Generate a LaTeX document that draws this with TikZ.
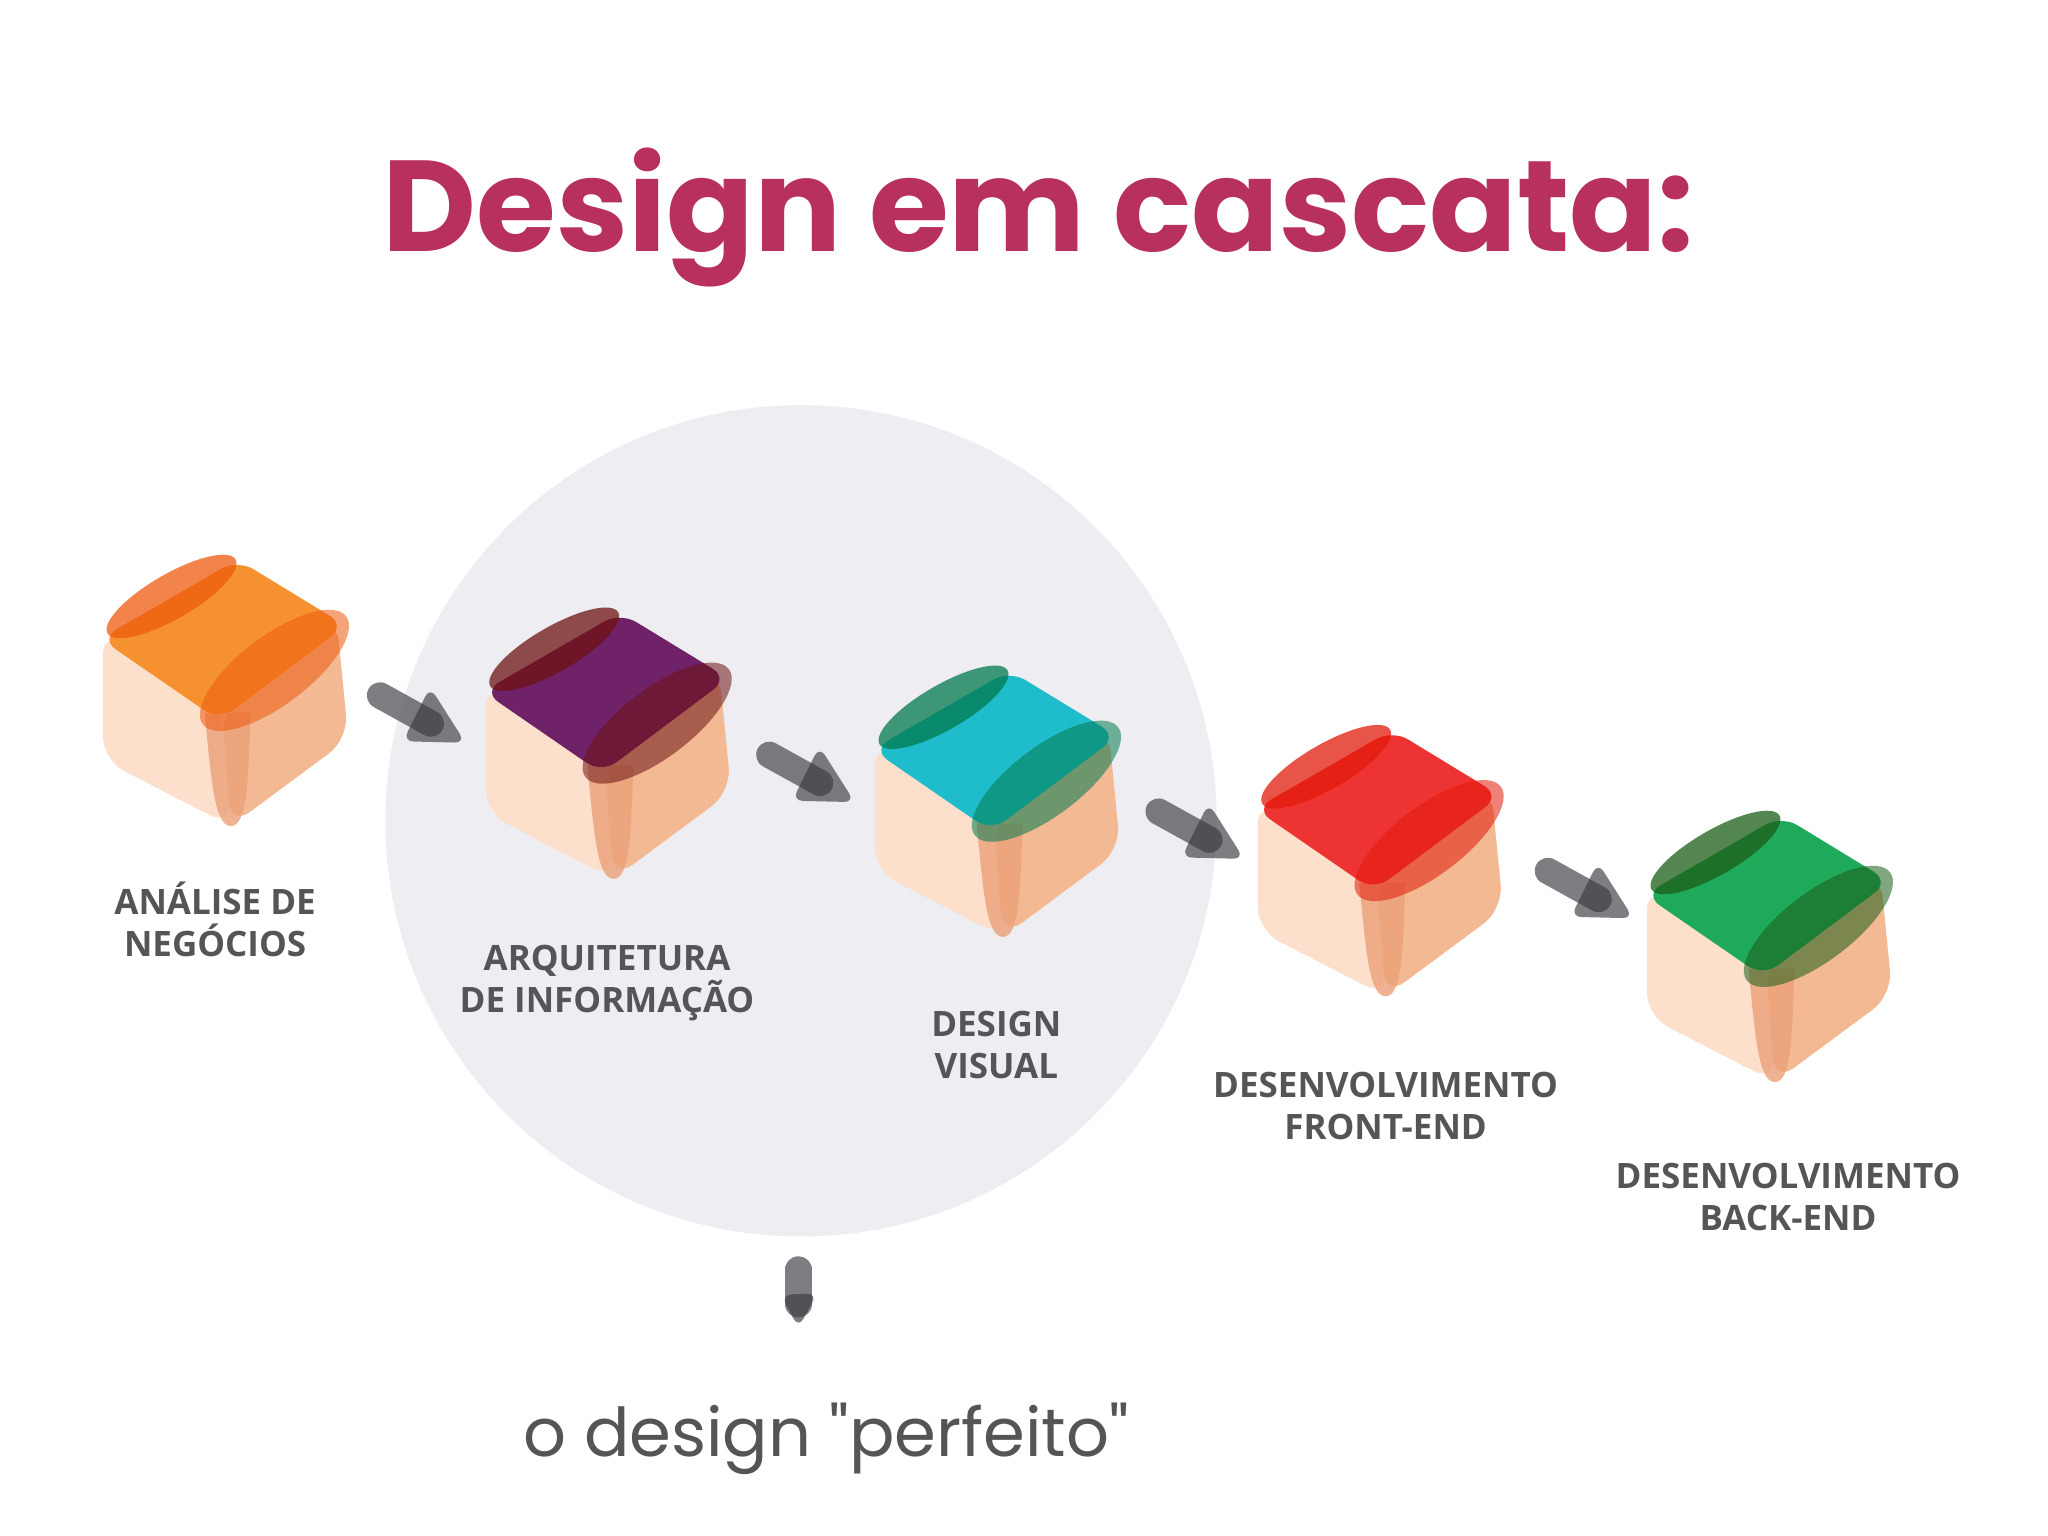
\documentclass[tikz,border=0pt]{standalone}
\usepackage{fontspec}
\setmainfont{Open Sans}
\newfontfamily\titlefont{Poppins}
\begin{document}
\begin{tikzpicture}[x=1pt,y=-1pt,
  lbl/.style={font=\fontsize{26.5}{32}\selectfont\bfseries, text=labgray, align=center},
  blob/.style={fill=arrgray, fill opacity=0.65, draw=none}]
\definecolor{labgray}{HTML}{555558}
\definecolor{arrgray}{HTML}{3A3A40}
\definecolor{lface}{HTML}{FCE0CC}
\definecolor{rface}{HTML}{F2B993}
\definecolor{mface}{HTML}{EBA078}
\definecolor{circ}{HTML}{EEEEF2}
\definecolor{titlec}{HTML}{B83060}
\definecolor{ctopA}{HTML}{F5922F}\definecolor{cdarkA}{HTML}{EE5A0E}
\definecolor{ctopB}{HTML}{702268}\definecolor{cdarkB}{HTML}{6E1212}
\definecolor{ctopC}{HTML}{1FBDCB}\definecolor{cdarkC}{HTML}{027A4E}
\definecolor{ctopD}{HTML}{EE3333}\definecolor{cdarkD}{HTML}{E21B0B}
\definecolor{ctopE}{HTML}{1FA95A}\definecolor{cdarkE}{HTML}{1C5E18}
\useasboundingbox (0,0) rectangle (1552,1164);
\fill[white] (0,0) rectangle (1552,1164);
\fill[circ] (607,622) circle (315);
\node[font=\titlefont\fontsize{98}{110}\selectfont\bfseries, text=titlec] (title) at (787,165) {Design em cascata:};
\newcommand{\cubeat}[4]{%
 \begin{scope}[shift={(#1,#2)}]
  \fill[lface, rounded corners=18] (-102,50) -- (-12,110) -- (-5,198) -- (-102,148) -- cycle;
  \fill[rface, rounded corners=18] (-12,110) -- (75,40) -- (84,132) -- (-5,198) -- cycle;
  \fill[mface, opacity=0.8] (-25,112) .. controls (-20,160) and (-18,198) .. (-5,198) .. controls (8,198) and (8,160) .. (10,112) -- cycle;
  \fill[#3, rounded corners=14] (0,-4) -- (-104,56) -- (-14,118) -- (82,46) -- cycle;
  \fill[#4, opacity=0.75, rotate around={30:(-50,24)}] (-50,24) ellipse (56 and 17);
  \fill[#4, opacity=0.55, rotate around={37:(28,80)}] (28,80) ellipse (68 and 26);
 \end{scope}}
\newcommand{\arrowat}[4]{%
 \begin{scope}[shift={(#1,#2)}, rotate=#3, scale=#4]
  \draw[arrgray, opacity=0.65, line width=20, line cap=round] (0,0) -- (44,0);
  \fill[blob, rounded corners=8] (30,-24) -- (74,0) -- (32,22) -- cycle;
 \end{scope}}
\cubeat{180}{428}{ctopA}{cdarkA}
\cubeat{470}{468}{ctopB}{cdarkB}
\cubeat{765}{512}{ctopC}{cdarkC}
\cubeat{1055}{557}{ctopD}{cdarkD}
\cubeat{1350}{622}{ctopE}{cdarkE}
\arrowat{288}{527}{-29}{1}
\arrowat{583}{572}{-29}{1}
\arrowat{878}{615}{-29}{1}
\arrowat{1173}{660}{-29}{1}
\arrowat{605}{962}{-90}{0.6}
\node[lbl] (l1) at (163,697) {ANÁLISE DE\\NEGÓCIOS};
\node[lbl] (l2) at (460,745) {ARQUITETURA\\DE INFORMAÇÃO};
\node[lbl] (l3) at (755,792) {DESIGN\\VISUAL};
\node[lbl] (l4) at (1050,838) {DESENVOLVIMENTO\\FRONT-END};
\node[lbl] (l5) at (1355,907) {DESENVOLVIMENTO\\BACK-END};
\node[font=\titlefont\fontsize{51}{56}\selectfont, text=labgray] (perf) at (626,1090) {o design "perfeito"};
\end{tikzpicture}
\end{document}
